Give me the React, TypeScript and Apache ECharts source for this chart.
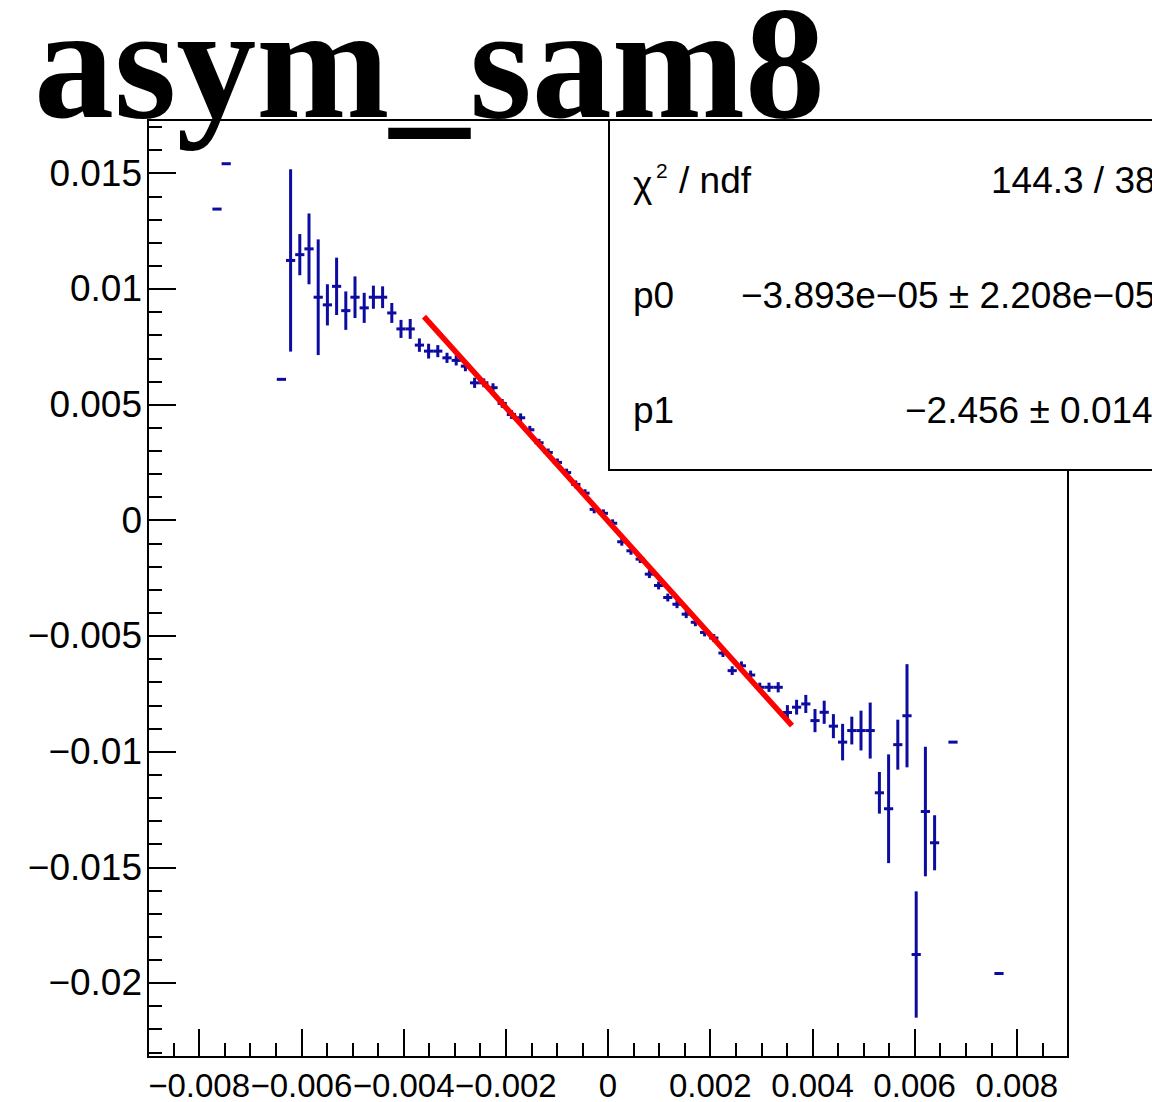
import React, { useEffect, useRef } from "react";
import * as echarts from "echarts";

// Histogram definition
const X_LOW = -0.009;
const X_HIGH = 0.009;
const N_BINS = 100;
const BIN_W = (X_HIGH - X_LOW) / N_BINS;

// Filled bins (bin index), bin contents and errors
const bins = [
  7, 8, 14, 15, 16, 17, 18, 19, 20, 21, 22, 23, 24, 25, 26, 27, 28, 29, 30, 31,
  32, 33, 34, 35, 36, 37, 38, 39, 40, 41, 42, 43, 44, 45, 46, 47, 48, 49, 50, 51,
  52, 53, 54, 55, 56, 57, 58, 59, 60, 61, 62, 63, 64, 65, 66, 67, 68, 69, 70, 71,
  72, 73, 74, 75, 76, 77, 78, 79, 80, 81, 82, 83, 84, 85, 87, 92,
];
const values = [
  0.01345, 0.01541, 0.00609, 0.01123, 0.01148, 0.01173, 0.00964, 0.00931, 0.01011, 0.00906,
  0.00964, 0.00918, 0.00964, 0.00964, 0.00896, 0.00827, 0.00827, 0.00757, 0.00731, 0.00731,
  0.00702, 0.00691, 0.00666, 0.00594, 0.00594, 0.00573, 0.00505, 0.00457, 0.00443, 0.00391,
  0.00335, 0.00293, 0.0025, 0.00206, 0.00155, 0.00117, 0.00047, 0.0003, -0.00013, -0.00093,
  -0.00132, -0.00168, -0.00233, -0.00282, -0.00334, -0.00363, -0.00406, -0.00441, -0.00485, -0.00509,
  -0.00574, -0.0065, -0.00629, -0.00669, -0.00722, -0.00722, -0.00722, -0.00831, -0.00808, -0.00794,
  -0.00866, -0.0083, -0.0089, -0.00959, -0.00909, -0.00909, -0.00909, -0.01178, -0.01247, -0.0097,
  -0.00845, -0.01877, -0.01259, -0.01394, -0.00959, -0.01959,
];
const errors = [
  0, 0, 0, 0.00394, 0.00089, 0.00153, 0.0025, 0.00089, 0.00124, 0.00083,
  0.0009, 0.00065, 0.0005, 0.00047, 0.00043, 0.00039, 0.00043, 0.00029, 0.00032, 0.00026,
  0.00022, 0.00022, 0.00022, 0.00022, 0.00019, 0.00019, 0.00019, 0.00019, 0.00019, 0.00017,
  0.00017, 0.00017, 0.00017, 0.00017, 0.00017, 0.00017, 0.00017, 0.00017, 0.00017, 0.00017,
  0.00017, 0.00017, 0.00017, 0.00017, 0.00017, 0.00017, 0.00017, 0.00017, 0.00017, 0.00017,
  0.00017, 0.00019, 0.00019, 0.00019, 0.0002, 0.0002, 0.00022, 0.00032, 0.00032, 0.00039,
  0.0005, 0.0005, 0.00052, 0.00079, 0.0006, 0.00086, 0.00121, 0.0009, 0.00235, 0.00108,
  0.00223, 0.00273, 0.0028, 0.00119, 0, 0,
];

// Fit (pol1) results
const fitP0 = -3.893e-5;
const fitP1 = -2.456;
const fitRange = [-0.0036, 0.0036];

// Axes
const Y_MIN = -0.0232;
const Y_MAX = 0.0173;
const xMajorTicks = [-0.008, -0.006, -0.004, -0.002, 0, 0.002, 0.004, 0.006, 0.008];
const yMajorTicks = [-0.02, -0.015, -0.01, -0.005, 0, 0.005, 0.01, 0.015];

// Texts
const histTitle = "asym_sam8";
const statChi = "144.3 / 38";
const statP0 = "\u22123.893e\u221205 \u00b1 2.208e\u221205";
const statP1 = "\u22122.456 \u00b1 0.014";

const xMinorTicks: number[] = [];
for (let i = -17; i <= 17; i++) if (i % 4 !== 0) xMinorTicks.push(Math.round(i * 5) / 10000);
const yMinorTicks: number[] = [];
for (let i = -23; i <= 17; i++) if (i % 5 !== 0) yMinorTicks.push(i / 1000);

const fmt = (v: number) => {
  if (Math.abs(v) < 1e-12) return "0";
  const s = String(parseFloat(Math.abs(v).toPrecision(6)));
  return (v < 0 ? "\u2212" : "") + s;
};

const BLUE = "#0c0ca0";
const FONT = "Liberation Sans";
const SFS = 37;

export default function App() {
  const ref = useRef<HTMLDivElement>(null);
  useEffect(() => {
    if (!ref.current) return;
    const chart = echarts.init(ref.current, undefined, { renderer: "svg" });
    const histData = bins.map((b, i) => [X_LOW + BIN_W * (b + 0.5), values[i], errors[i]]);
    const fitData = fitRange.map((x) => [x, fitP0 + fitP1 * x]);

    const txt = (text: string, x: number, y: number, fontSize = SFS) => ({
      type: "text",
      z: 101,
      style: { text, x, y, fontSize, fontFamily: FONT, fill: "#000", verticalAlign: "middle" },
    });

    chart.setOption({
      animation: false,
      backgroundColor: "#fff",
      grid: {
        left: 148,
        top: 120,
        width: 920,
        height: 938,
        show: true,
        borderColor: "#000",
        borderWidth: 2,
        backgroundColor: "transparent",
      },
      xAxis: [
        {
          type: "value",
          min: X_LOW,
          max: X_HIGH,
          position: "bottom",
          axisLine: { show: true, onZero: false, lineStyle: { color: "#000", width: 2 } },
          axisTick: { show: true, inside: true, length: 28, customValues: xMajorTicks, lineStyle: { color: "#000", width: 2 } },
          axisLabel: {
            fontSize: 33,
            fontFamily: FONT,
            color: "#000",
            customValues: xMajorTicks,
            formatter: fmt,
            margin: 12,
            hideOverlap: false,
            showMinLabel: true,
            showMaxLabel: true,
          },
          splitLine: { show: false },
        },
        {
          type: "value",
          min: X_LOW,
          max: X_HIGH,
          position: "bottom",
          axisLine: { show: false, onZero: false },
          axisTick: { show: true, inside: true, length: 14, customValues: xMinorTicks, lineStyle: { color: "#000", width: 2 } },
          axisLabel: { show: false },
          splitLine: { show: false },
        },
      ],
      yAxis: [
        {
          type: "value",
          min: Y_MIN,
          max: Y_MAX,
          position: "left",
          axisLine: { show: true, onZero: false, lineStyle: { color: "#000", width: 2 } },
          axisTick: { show: true, inside: true, length: 28, customValues: yMajorTicks, lineStyle: { color: "#000", width: 2 } },
          axisLabel: {
            fontSize: 37,
            fontFamily: FONT,
            color: "#000",
            customValues: yMajorTicks,
            formatter: fmt,
            margin: 6,
            showMinLabel: true,
            showMaxLabel: true,
          },
          splitLine: { show: false },
        },
        {
          type: "value",
          min: Y_MIN,
          max: Y_MAX,
          position: "left",
          axisLine: { show: false, onZero: false },
          axisTick: { show: true, inside: true, length: 14, customValues: yMinorTicks, lineStyle: { color: "#000", width: 2 } },
          axisLabel: { show: false },
          splitLine: { show: false },
        },
      ],
      series: [
        {
          type: "custom",
          xAxisIndex: 0,
          yAxisIndex: 0,
          data: histData,
          clip: true,
          z: 2,
          renderItem: (params: any, api: any) => {
            const x = api.value(0);
            const y = api.value(1);
            const e = api.value(2);
            const pl = api.coord([x - BIN_W / 2, y]);
            const pr = api.coord([x + BIN_W / 2, y]);
            const children: any[] = [
              {
                type: "line",
                shape: { x1: pl[0], y1: pl[1], x2: pr[0], y2: pr[1] },
                style: { stroke: BLUE, lineWidth: 3 },
              },
            ];
            if (e > 0) {
              const pt = api.coord([x, y + e]);
              const pb = api.coord([x, y - e]);
              children.push({
                type: "line",
                shape: { x1: pt[0], y1: pt[1], x2: pb[0], y2: pb[1] },
                style: { stroke: BLUE, lineWidth: 3 },
              });
            }
            return { type: "group", children };
          },
        },
        {
          type: "line",
          xAxisIndex: 0,
          yAxisIndex: 0,
          data: fitData,
          showSymbol: false,
          symbol: "none",
          z: 3,
          lineStyle: { color: "#ff0000", width: 5.5 },
        },
      ],
      graphic: [
        {
          type: "rect",
          z: 100,
          shape: { x: 609, y: 120, width: 700, height: 350 },
          style: { fill: "#fff", stroke: "#000", lineWidth: 2 },
        },
        txt("\u03c7", 633, 184),
        txt("2", 656, 170, 21),
        txt("/ ndf", 679, 180),
        txt(statChi, 991, 180),
        txt("p0", 633, 295),
        txt(statP0, 741, 295),
        txt("p1", 633, 410),
        txt(statP1, 905, 410),
        {
          type: "text",
          z: 102,
          style: {
            text: histTitle,
            x: 34,
            y: 63,
            fontSize: 160,
            fontFamily: "Liberation Serif",
            fontWeight: "bold",
            fill: "#000",
            verticalAlign: "middle",
          },
        },
      ],
    });
    return () => chart.dispose();
  }, []);
  return (
    <div
      ref={ref}
      style={{ position: "fixed", left: 0, top: 0, width: 1152, height: 1102, background: "#fff" }}
    />
  );
}
